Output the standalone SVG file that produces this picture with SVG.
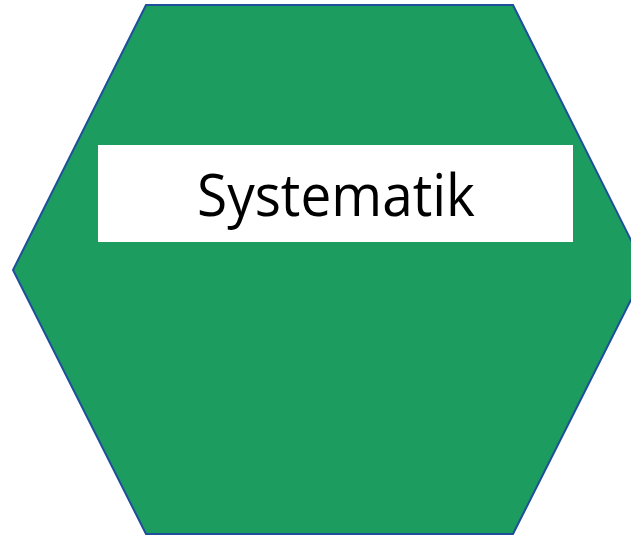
<svg xmlns="http://www.w3.org/2000/svg" width="631" height="536" viewBox="0 0 631 536">
<style>
.hex{fill:#1c9d5f;stroke:#1f4e9c;stroke-width:2}
.lbl{font-family:"Open Sans","Noto Sans",sans-serif;font-size:58px;fill:#000}
</style>
<rect width="631" height="536" fill="#fff"/>
<g id="node-systematik">
<polygon class="hex" points="146,5 513,5 646,270 513,534 146,534 13,270"/>
<rect x="98" y="145" width="475" height="97" fill="#fff"/>
<text class="lbl" x="336" y="216" text-anchor="middle" textLength="278" lengthAdjust="spacingAndGlyphs">Systematik</text>
</g>
<g id="connectors"/>
</svg>
